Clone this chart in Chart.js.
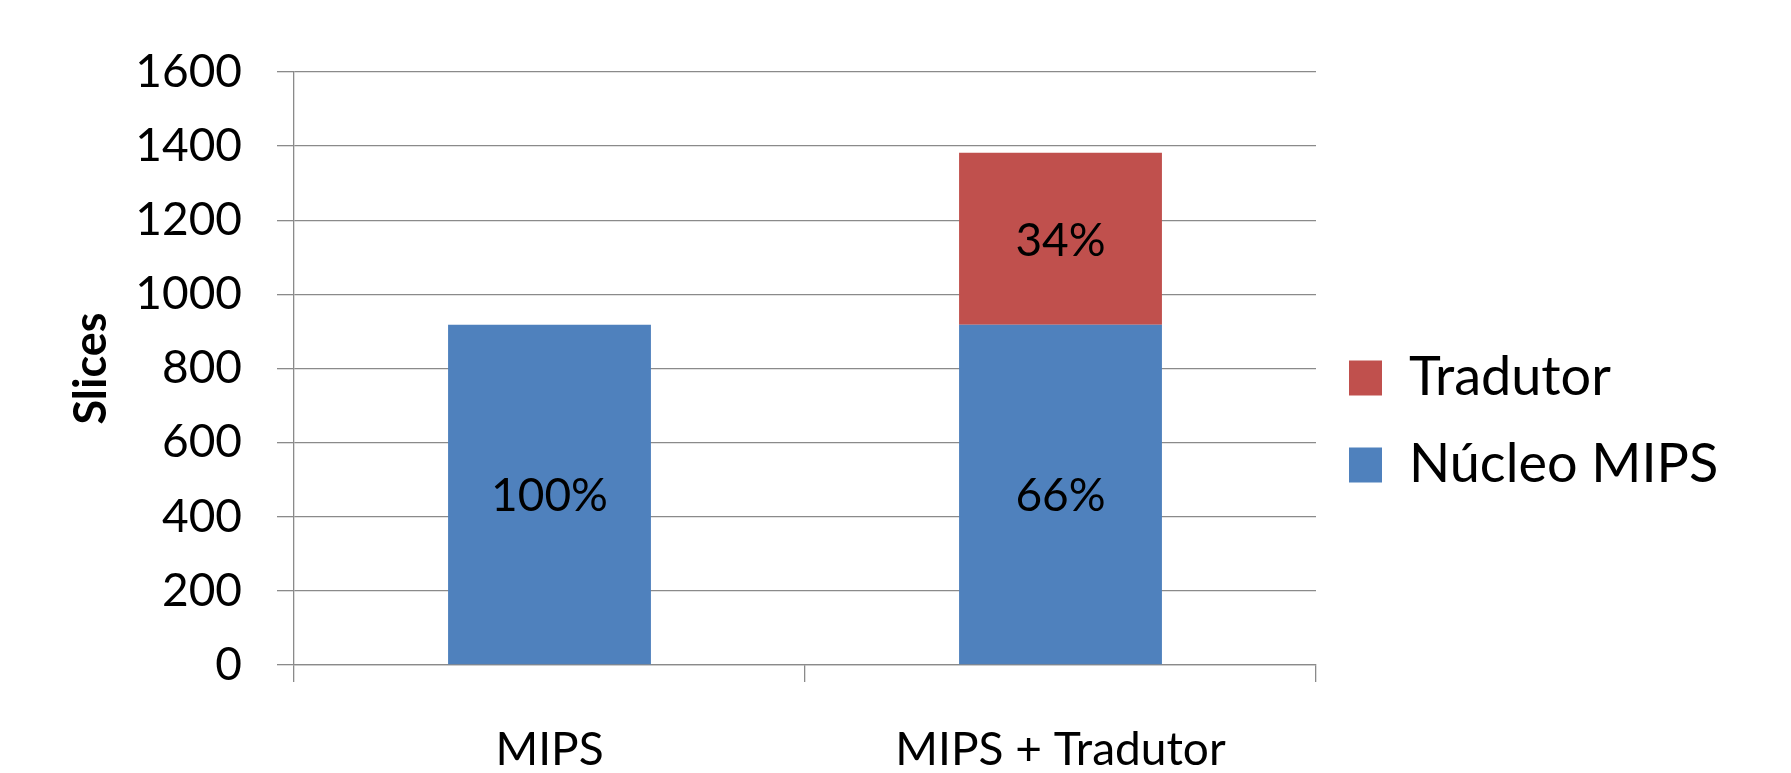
<!DOCTYPE html>
<html lang="pt">
<head>
<meta charset="utf-8">
<title>Slices: MIPS vs MIPS + Tradutor</title>
<script src="https://cdn.jsdelivr.net/npm/chart.js@4.4.1/dist/chart.umd.min.js"></script>
<style>
  html, body { margin: 0; padding: 0; background: #ffffff; overflow: hidden; }
  #wrap { width: 1791px; height: 773px; }
  canvas { display: block; }
</style>
</head>
<body>
<div id="wrap"><canvas id="chart" width="1791" height="773"></canvas></div>
<script>
// Categories and series (slices used by each design)
const categories = ['MIPS', 'MIPS + Tradutor'];
const nucleoMips = [918, 918];
const tradutor = [null, 464];
const yTicks = [0, 200, 400, 600, 800, 1000, 1200, 1400, 1600];

const FONT = 'Lato, Calibri, Carlito, "Open Sans", sans-serif';
const GRID = '#8a8a8a';
const legendFontSize = 54;
const legendPad = 33;
const legendBox = 33;
const bottomPad = 2;
const plotBottom = 665;

// Width the legend needs, so the plot area ends where the legend begins
const mctx = document.createElement('canvas').getContext('2d');
mctx.font = legendFontSize + 'px ' + FONT;
const legendTextW = Math.max(mctx.measureText('Tradutor').width, mctx.measureText('Núcleo MIPS').width);
const legendW = legendPad + legendBox + legendFontSize / 2 + legendTextW + 10;
const plotRight = 1316;
const rightPad = Math.max(0, 1791 - plotRight - legendW);

// Percent of each stacked segment relative to its bar total
function stackTotal(i) {
  return (nucleoMips[i] || 0) + (tradutor[i] || 0);
}

const segmentLabels = {
  id: 'segmentLabels',
  afterDatasetsDraw(chart) {
    const ctx = chart.ctx;
    ctx.save();
    ctx.font = '46px ' + FONT;
    ctx.fillStyle = '#000000';
    ctx.textAlign = 'center';
    ctx.textBaseline = 'middle';
    chart.data.datasets.forEach((ds, di) => {
      const meta = chart.getDatasetMeta(di);
      meta.data.forEach((bar, i) => {
        const v = ds.data[i];
        if (v === null || v === undefined) return;
        const pct = Math.round(v / stackTotal(i) * 100) + '%';
        const { x, y, base } = bar.getProps(['x', 'y', 'base'], true);
        ctx.fillText(pct, x, (y + base) / 2 + 2);
      });
    });
    ctx.restore();
  }
};

new Chart(document.getElementById('chart'), {
  type: 'bar',
  data: {
    labels: categories,
    datasets: [
      {
        label: 'Núcleo MIPS',
        data: nucleoMips,
        backgroundColor: '#4F81BD',
        borderWidth: 0,
        stack: 's'
      },
      {
        label: 'Tradutor',
        data: tradutor,
        backgroundColor: '#C0504D',
        borderWidth: 0,
        stack: 's'
      }
    ]
  },
  options: {
    responsive: false,
    animation: false,
    devicePixelRatio: 1,
    layout: { padding: { left: 0, top: 72, right: rightPad, bottom: bottomPad } },
    datasets: { bar: { categoryPercentage: 1.0, barPercentage: 0.397 } },
    plugins: {
      tooltip: { enabled: false },
      legend: {
        position: 'right',
        reverse: true,
        labels: {
          font: { family: FONT, size: legendFontSize },
          color: '#000000',
          boxWidth: legendBox,
          boxHeight: 35,
          padding: legendPad
        }
      }
    },
    scales: {
      x: {
        stacked: true,
        grid: {
          offset: true,
          drawOnChartArea: false,
          drawTicks: true,
          tickLength: 17,
          color: GRID,
          lineWidth: 1.3
        },
        border: { display: true, color: GRID, width: 1.3 },
        ticks: {
          font: { family: FONT, size: 46 },
          color: '#000000',
          padding: 41,
          maxRotation: 0
        },
        afterFit(scale) { scale.height = 773 - bottomPad - plotBottom; }
      },
      y: {
        stacked: true,
        min: 0,
        max: 1600,
        afterBuildTicks(scale) { scale.ticks = yTicks.map(v => ({ value: v })); },
        grid: {
          drawTicks: true,
          tickLength: 17,
          color: GRID,
          lineWidth: 1.3
        },
        border: { display: true, color: GRID, width: 1.3 },
        ticks: {
          font: { family: FONT, size: 46 },
          color: '#000000',
          padding: 35,
          callback: (v) => String(v)
        },
        title: {
          display: true,
          text: 'Slices',
          font: { family: FONT, size: 45, weight: 'bold' },
          color: '#000000',
          padding: { top: 64, bottom: 0 }
        },
        afterFit(scale) { scale.width = 294; }
      }
    }
  },
  plugins: [segmentLabels]
});
</script>
</body>
</html>
